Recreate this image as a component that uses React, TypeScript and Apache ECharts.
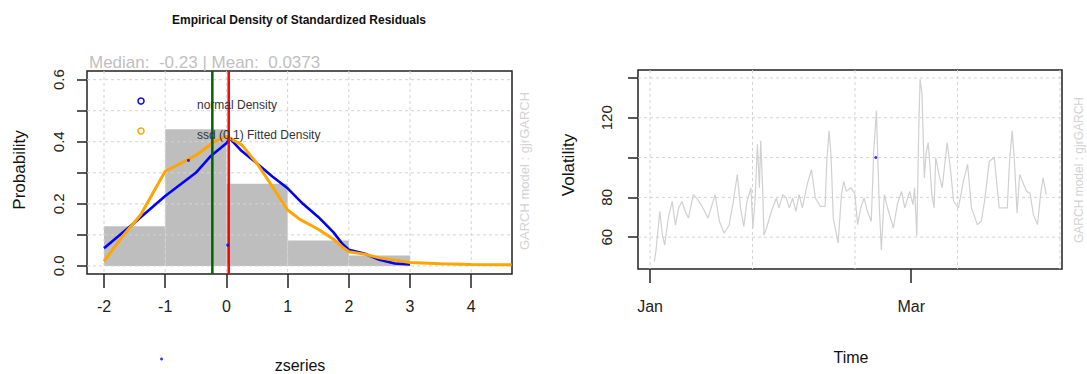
import React, { useEffect, useRef } from "react";
import * as echarts from "echarts";

// ---------- Left panel: empirical density ----------
const histBreaks = [-2, -1, 0, 1, 2, 3];
const histDensity = [0.128, 0.44, 0.265, 0.082, 0.034];

const normX = [-2, -1.5, -1, -0.5, -0.25, 0, 0.05, 0.25, 0.5, 0.75, 1, 1.25, 1.5, 1.75, 1.9, 2, 2.25, 2.5, 2.75, 3];
const normY = [0.057, 0.14, 0.225, 0.3, 0.355, 0.395, 0.412, 0.37, 0.33, 0.288, 0.25, 0.2, 0.158, 0.108, 0.07, 0.052, 0.04, 0.02, 0.008, 0.005];

const ssdX = [-2, -1.7, -1.4, -1, -0.75, -0.5, -0.2, 0, 0.25, 0.5, 0.75, 1, 1.2, 1.5, 1.75, 1.9, 2, 2.25, 2.5, 3, 3.5, 4, 4.66];
const ssdY = [0.015, 0.095, 0.165, 0.305, 0.33, 0.356, 0.4, 0.418, 0.39, 0.33, 0.256, 0.18, 0.15, 0.118, 0.086, 0.06, 0.046, 0.038, 0.026, 0.011, 0.007, 0.005, 0.004];

const strayX = [-0.62, 0.02, -1.06];
const strayY = [0.34, 0.067, -0.3];

const medianValue = -0.23;
const meanValue = 0.0373;

const densXTicks = [-2, -1, 0, 1, 2, 3, 4];
const densYTicks = [0, 0.1, 0.2, 0.3, 0.4, 0.5, 0.6];
const densYLabels = [0, 0.2, 0.4, 0.6];

// ---------- Right panel: volatility ----------
const volDays = [
  0.96, 1.32, 2.21, 2.79, 3.31, 4.12, 5.0, 5.74, 6.47, 7.21, 7.94, 8.68, 9.78, 10.51, 11.62, 13.09, 14.71, 15.66,
  16.76, 17.87, 18.82, 19.71, 20.44, 21.18, 21.91, 22.79, 23.24, 23.75, 24.26, 24.71, 25.0, 25.44, 25.74, 26.32,
  27.43, 28.53, 29.12, 30.0, 30.74, 31.47, 32.21, 32.94, 33.68, 34.41, 35.51, 36.47, 37.35, 38.46, 39.56, 39.93,
  40.44, 40.88, 41.4, 42.5, 43.24, 43.75, 44.34, 45.42, 46.3, 46.89, 47.62, 48.36, 49.09, 49.98, 50.56, 51.15,
  51.45, 51.81, 52.26, 52.92, 53.87, 54.98, 55.86, 56.81, 57.55, 58.65, 59.39, 59.76, 60.27, 60.71, 61.01, 61.45,
  61.96, 62.33, 62.84, 63.21, 63.65, 64.17, 64.54, 65.27, 66.01, 67.11, 67.84, 68.58, 69.68, 70.78, 71.74, 72.62,
  73.95, 74.83, 75.56, 76.66, 77.77, 78.51, 78.88, 79.98, 80.71, 81.22, 81.81, 82.33, 82.92, 83.51, 84.4, 85.13,
  85.86, 86.6, 87.55, 88.22, 88.8, 89.53,
];
const volValues = [
  47.7, 52.8, 73, 61, 56, 69.6, 78, 66, 74.7, 78, 73, 69.6, 81.4, 79.7, 76, 69.6, 81.4, 68,
  62, 66, 78, 91.5, 74.7, 65.4, 78, 84.8, 64.6, 79.7, 106.7, 84.8, 108.4, 84.8, 61, 64.6,
  73, 79.7, 74.7, 81.4, 79.7, 74.7, 79.7, 73, 81.4, 74.7, 86.5, 94, 79.7, 75.5, 75.5, 98.2,
  113.4, 101.6, 69.6, 57, 81.4, 88, 83, 84.8, 81.4, 66.3, 74.7, 79.7, 73, 68, 104, 123.5,
  100, 74.7, 53.6, 81.4, 73, 64.6, 76.4, 83, 74.7, 83, 76.4, 84.8, 60.4, 115, 139.5, 132,
  89.8, 101.6, 107.5, 96.6, 81.4, 74.7, 100, 91.5, 84.8, 107.5, 94.9, 78, 74.7, 88, 96.6, 74.7,
  66.3, 68, 78, 98.2, 100, 83, 74.7, 74.7, 74.7, 98.2, 113.4, 98.2, 72, 91.5, 86.5, 83,
  82, 71.3, 66.3, 81.4, 89.8, 81.4,
];
const volPointDay = [51.0];
const volPointValue = [100];

const volYTicks = [60, 80, 100, 120, 140];
const volYLabels = [60, 80, 120];
const timeTickDays = [0, 59];
const timeTickLabels = ["Jan", "Mar"];
const timeGridDays = [0, 23.15, 46.3, 69.45, 92.6];

const FONT = "'Liberation Sans', Arial, sans-serif";
const AXIS_COLOR = "#222";
const GRID_COLOR = "#d3d3d3";

// Full-height vertical or full-width horizontal rule lines placed through the axes' scales
function ruleSeries(values: number[], dir: "v" | "h", axisIndex: number, strokes: string[], width: number, dash: number[] | null, z: number) {
  return {
    type: "custom",
    xAxisIndex: axisIndex,
    yAxisIndex: axisIndex,
    z,
    silent: true,
    clip: false,
    encode: dir === "v" ? { x: 0 } : { y: 0 },
    dimensions: ["v"],
    data: values.map((v) => [v]),
    renderItem: (params: any, api: any) => {
      const cs = params.coordSys;
      const v = api.value(0);
      const stroke = strokes[params.dataIndex % strokes.length];
      let shape;
      if (dir === "v") {
        const x = api.coord([v, 0])[0];
        shape = { x1: x, y1: cs.y, x2: x, y2: cs.y + cs.height };
      } else {
        const y = api.coord([0, v])[1];
        shape = { x1: cs.x, y1: y, x2: cs.x + cs.width, y2: y };
      }
      return {
        type: "line",
        shape,
        style: { stroke, lineWidth: width, lineDash: dash ?? undefined, fill: null },
      };
    },
  };
}

export default function App() {
  const ref = useRef<HTMLDivElement>(null);

  useEffect(() => {
    if (!ref.current) return;
    const chart = echarts.init(ref.current, undefined, { renderer: "svg" });

    const tickStyle = { color: AXIS_COLOR, width: 1.5 };
    const labelBase = { color: AXIS_COLOR, fontSize: 16, fontFamily: FONT };
    const noLine = { show: false, onZero: false };

    const option: any = {
      animation: false,
      backgroundColor: "#ffffff",
      textStyle: { fontFamily: FONT },
      grid: [
        { left: 87, top: 71, width: 425, height: 203, show: true, borderColor: AXIS_COLOR, borderWidth: 1.5, backgroundColor: "transparent" },
        { left: 638, top: 70, width: 424, height: 199, show: true, borderColor: AXIS_COLOR, borderWidth: 1.5, backgroundColor: "transparent" },
      ],
      xAxis: [
        {
          type: "value",
          gridIndex: 0,
          position: "bottom",
          min: -2.278,
          max: 4.666,
          axisLine: noLine,
          splitLine: { show: false },
          axisTick: { show: true, inside: false, customValues: densXTicks, length: 14, lineStyle: tickStyle },
          axisLabel: { ...labelBase, customValues: densXTicks, margin: 24 },
        },
        {
          type: "value",
          gridIndex: 1,
          position: "bottom",
          min: -2.72,
          max: 93.07,
          axisLine: noLine,
          splitLine: { show: false },
          axisTick: { show: true, inside: false, customValues: timeTickDays, length: 14, lineStyle: tickStyle },
          axisLabel: {
            ...labelBase,
            customValues: timeTickDays,
            margin: 29,
            formatter: (v: number) => timeTickLabels[timeTickDays.indexOf(v)] ?? "",
          },
        },
      ],
      yAxis: [
        {
          type: "value",
          gridIndex: 0,
          position: "left",
          min: -0.026,
          max: 0.628,
          axisLine: noLine,
          splitLine: { show: false },
          axisTick: { show: true, inside: false, customValues: densYTicks, length: 10, lineStyle: tickStyle },
          axisLabel: {
            ...labelBase,
            fontSize: 15,
            customValues: densYLabels,
            rotate: 90,
            margin: 21,
            formatter: (v: number) => v.toFixed(1),
          },
        },
        {
          type: "value",
          gridIndex: 1,
          position: "left",
          min: 44,
          max: 144,
          axisLine: noLine,
          splitLine: { show: false },
          axisTick: { show: true, inside: false, customValues: volYTicks, length: 10, lineStyle: tickStyle },
          axisLabel: { ...labelBase, fontSize: 15, customValues: volYLabels, rotate: 90, margin: 24 },
        },
      ],
      series: [
        {
          type: "custom",
          xAxisIndex: 0,
          yAxisIndex: 0,
          z: 2,
          silent: true,
          encode: { x: [0, 1], y: 2 },
          data: histDensity.map((d, i) => [histBreaks[i], histBreaks[i + 1], d]),
          renderItem: (_params: any, api: any) => {
            const p0 = api.coord([api.value(0), api.value(2)]);
            const p1 = api.coord([api.value(1), 0]);
            return {
              type: "rect",
              shape: { x: p0[0], y: p0[1], width: p1[0] - p0[0], height: p1[1] - p0[1] },
              style: { fill: "#bebebe" },
            };
          },
        },
        ruleSeries(densXTicks, "v", 0, [GRID_COLOR], 1, [3, 3], 3),
        ruleSeries(densYTicks, "h", 0, [GRID_COLOR], 1, [3, 3], 3),
        {
          type: "line",
          name: "normal Density",
          xAxisIndex: 0,
          yAxisIndex: 0,
          z: 4,
          showSymbol: false,
          silent: true,
          data: normX.map((x, i) => [x, normY[i]]),
          lineStyle: { color: "#0000ff", width: 2.6 },
        },
        {
          type: "line",
          name: "ssd (0,1) Fitted Density",
          xAxisIndex: 0,
          yAxisIndex: 0,
          z: 5,
          showSymbol: false,
          silent: true,
          data: ssdX.map((x, i) => [x, ssdY[i]]),
          lineStyle: { color: "#ffa500", width: 3 },
        },
        ruleSeries([medianValue, meanValue], "v", 0, ["#006400", "#ff0000"], 2.5, null, 6),
        {
          type: "scatter",
          xAxisIndex: 0,
          yAxisIndex: 0,
          z: 7,
          clip: false,
          silent: true,
          symbol: "circle",
          symbolSize: 3,
          itemStyle: { color: "#0000ff" },
          data: strayX.map((x, i) => [x, strayY[i]]),
        },
        ruleSeries(timeGridDays, "v", 1, [GRID_COLOR], 1, [3, 3], 1),
        ruleSeries(volYTicks, "h", 1, [GRID_COLOR], 1, [3, 3], 1),
        {
          type: "line",
          xAxisIndex: 1,
          yAxisIndex: 1,
          z: 4,
          showSymbol: false,
          silent: true,
          data: volDays.map((d, i) => [d, volValues[i]]),
          lineStyle: { color: "#d0d0d0", width: 1.2 },
        },
        {
          type: "scatter",
          xAxisIndex: 1,
          yAxisIndex: 1,
          z: 6,
          silent: true,
          symbol: "circle",
          symbolSize: 3,
          itemStyle: { color: "#0000ff" },
          data: volPointDay.map((d, i) => [d, volPointValue[i]]),
        },
      ],
      graphic: [
        {
          type: "text",
          x: 299,
          y: 20,
          style: {
            text: "Empirical Density of Standardized Residuals",
            font: `bold 12px ${FONT}`,
            fill: "#111",
            textAlign: "center",
            textVerticalAlign: "middle",
          },
        },
        {
          type: "text",
          x: 89,
          y: 62,
          style: {
            text: "Median:  -0.23 | Mean:  0.0373",
            font: `17px ${FONT}`,
            fill: "#c0c0c0",
            textAlign: "left",
            textVerticalAlign: "middle",
          },
        },
        { type: "circle", shape: { cx: 141, cy: 101, r: 3 }, style: { fill: "none", stroke: "#0000ff", lineWidth: 1.5 }, z: 10 },
        { type: "circle", shape: { cx: 141, cy: 131, r: 3 }, style: { fill: "none", stroke: "#ffa500", lineWidth: 1.5 }, z: 10 },
        {
          type: "text",
          x: 197,
          y: 105,
          z: 10,
          style: { text: "normal Density", font: `12px ${FONT}`, fill: "#333", textAlign: "left", textVerticalAlign: "middle" },
        },
        {
          type: "text",
          x: 197,
          y: 135,
          z: 10,
          style: { text: "ssd (0,1) Fitted Density", font: `12px ${FONT}`, fill: "#333", textAlign: "left", textVerticalAlign: "middle" },
        },
        {
          type: "text",
          x: 19,
          y: 170,
          rotation: Math.PI / 2,
          style: { text: "Probability", font: `17px ${FONT}`, fill: "#111", textAlign: "center", textVerticalAlign: "middle" },
        },
        {
          type: "text",
          x: 300,
          y: 365,
          style: { text: "zseries", font: `16px ${FONT}`, fill: "#111", textAlign: "center", textVerticalAlign: "middle" },
        },
        {
          type: "text",
          x: 524,
          y: 171,
          rotation: Math.PI / 2,
          style: { text: "GARCH model : gjrGARCH", font: `13px ${FONT}`, fill: "#d3d3d3", textAlign: "center", textVerticalAlign: "middle" },
        },
        {
          type: "text",
          x: 568,
          y: 165,
          rotation: Math.PI / 2,
          style: { text: "Volatility", font: `17px ${FONT}`, fill: "#111", textAlign: "center", textVerticalAlign: "middle" },
        },
        {
          type: "text",
          x: 851,
          y: 357,
          style: { text: "Time", font: `16px ${FONT}`, fill: "#111", textAlign: "center", textVerticalAlign: "middle" },
        },
        {
          type: "text",
          x: 1079,
          y: 170,
          rotation: Math.PI / 2,
          style: { text: "GARCH model : gjrGARCH", font: `12px ${FONT}`, fill: "#d3d3d3", textAlign: "center", textVerticalAlign: "middle" },
        },
      ],
    };

    chart.setOption(option);
    return () => chart.dispose();
  }, []);

  return <div ref={ref} style={{ position: "absolute", left: 0, top: 0, width: 1087, height: 374 }} />;
}
